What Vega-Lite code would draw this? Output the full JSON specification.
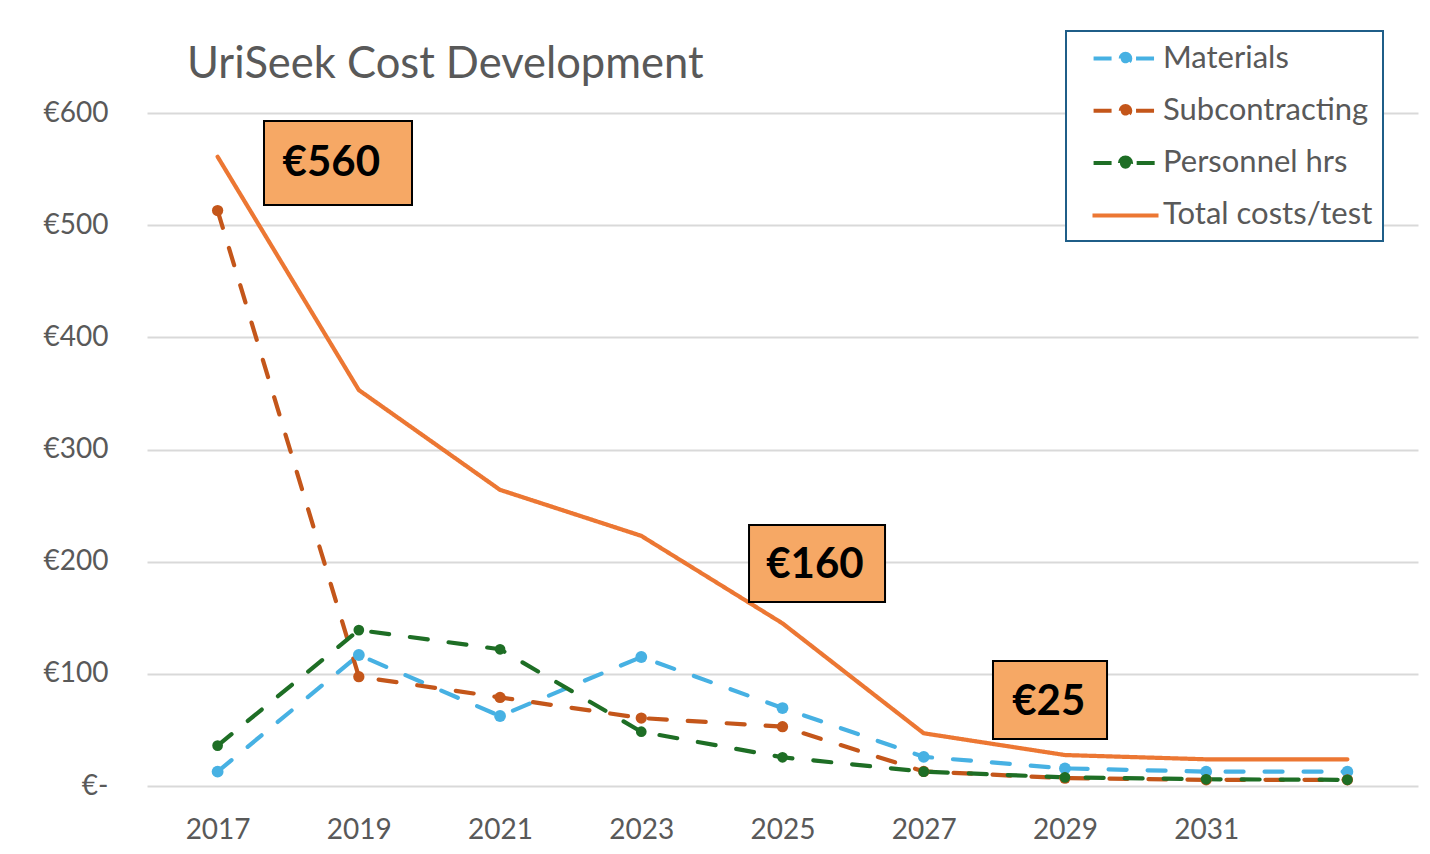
{
  "$schema": "https://vega.github.io/schema/vega-lite/v6.json",
  "autosize": {"type": "none"},
  "padding": {"left": 147, "top": 113, "right": 12, "bottom": 68},
  "width": 1271,
  "height": 673,
  "background": "white",
  "config": {"view": {"stroke": null}, "font": "Lato", "legend": {"strokeWidth": 2}},
  "title": {
    "text": "UriSeek Cost Development",
    "anchor": "start",
    "frame": "group",
    "font": "Lato",
    "fontSize": 43.5,
    "fontWeight": "normal",
    "color": "#595959",
    "dx": 40,
    "dy": 77,
    "offset": 20
  },
  "datasets": {
    "costs": [
      {"year": 2017, "series": "Materials", "value": 12.8},
      {"year": 2019, "series": "Materials", "value": 116.8},
      {"year": 2021, "series": "Materials", "value": 62.4},
      {"year": 2023, "series": "Materials", "value": 115},
      {"year": 2025, "series": "Materials", "value": 69.5},
      {"year": 2027, "series": "Materials", "value": 26},
      {"year": 2029, "series": "Materials", "value": 15.7},
      {"year": 2031, "series": "Materials", "value": 12.8},
      {"year": 2033, "series": "Materials", "value": 12.8},
      {"year": 2017, "series": "Subcontracting", "value": 513},
      {"year": 2019, "series": "Subcontracting", "value": 97.5},
      {"year": 2021, "series": "Subcontracting", "value": 79},
      {"year": 2023, "series": "Subcontracting", "value": 60.6},
      {"year": 2025, "series": "Subcontracting", "value": 52.9},
      {"year": 2027, "series": "Subcontracting", "value": 13},
      {"year": 2029, "series": "Subcontracting", "value": 7},
      {"year": 2031, "series": "Subcontracting", "value": 5.5},
      {"year": 2033, "series": "Subcontracting", "value": 5.5},
      {"year": 2017, "series": "Personnel hrs", "value": 36},
      {"year": 2019, "series": "Personnel hrs", "value": 139},
      {"year": 2021, "series": "Personnel hrs", "value": 121.9},
      {"year": 2023, "series": "Personnel hrs", "value": 48.4},
      {"year": 2025, "series": "Personnel hrs", "value": 25.6},
      {"year": 2027, "series": "Personnel hrs", "value": 12.8},
      {"year": 2029, "series": "Personnel hrs", "value": 7.7},
      {"year": 2031, "series": "Personnel hrs", "value": 6},
      {"year": 2033, "series": "Personnel hrs", "value": 5.5},
      {"year": 2017, "series": "Total costs/test", "value": 561},
      {"year": 2019, "series": "Total costs/test", "value": 353},
      {"year": 2021, "series": "Total costs/test", "value": 264},
      {"year": 2023, "series": "Total costs/test", "value": 223},
      {"year": 2025, "series": "Total costs/test", "value": 145},
      {"year": 2027, "series": "Total costs/test", "value": 47},
      {"year": 2029, "series": "Total costs/test", "value": 27.6},
      {"year": 2031, "series": "Total costs/test", "value": 23.8},
      {"year": 2033, "series": "Total costs/test", "value": 23.8}
    ],
    "notes": [
      {"label": "€560", "x1": 2017.657, "x2": 2019.753, "y1": 592.9, "y2": 518.0, "tx": 2018.61, "ty": 555.4},
      {"label": "€160", "x1": 2024.526, "x2": 2026.452, "y1": 232.7, "y2": 164.0, "tx": 2025.46, "ty": 197.0},
      {"label": "€25", "x1": 2027.981, "x2": 2029.596, "y1": 111.4, "y2": 41.9, "tx": 2028.77, "ty": 74.9}
    ]
  },
  "layer": [
    {
      "data": {"name": "costs"},
      "mark": {"type": "line", "strokeWidth": 4.2, "strokeCap": "round", "strokeJoin": "round"},
      "encoding": {
        "x": {
          "field": "year", "type": "quantitative",
          "scale": {"domain": [2016, 2034], "nice": false, "zero": false},
          "axis": {
            "title": null, "values": [2017, 2019, 2021, 2023, 2025, 2027, 2029, 2031],
            "format": "d", "grid": false, "domain": false, "ticks": false, "tickSize": 0,
            "labelFont": "Lato", "labelFontSize": 28, "labelColor": "#595959", "labelPadding": 30
          }
        },
        "y": {
          "field": "value", "type": "quantitative",
          "scale": {"domain": [0, 600], "nice": false},
          "axis": {
            "title": null, "values": [0, 100, 200, 300, 400, 500, 600],
            "labelExpr": "datum.value == 0 ? '€-' : '€' + datum.value",
            "grid": true, "gridColor": "#D9D9D9", "gridWidth": 2,
            "domain": false, "ticks": false, "tickSize": 0,
            "labelFont": "Lato", "labelFontSize": 28, "labelColor": "#595959", "labelPadding": 39
          }
        },
        "color": {
          "field": "series", "type": "nominal",
          "scale": {
            "domain": ["Materials", "Subcontracting", "Personnel hrs", "Total costs/test"],
            "range": ["#47B1E3", "#C4561A", "#1E6E25", "#EC7733"]
          }
        },
        "strokeDash": {
          "field": "series", "type": "nominal",
          "scale": {
            "domain": ["Materials", "Subcontracting", "Personnel hrs", "Total costs/test"],
            "range": [[18, 21], [18, 21], [18, 21], [1, 0]]
          },
          "legend": null
        }
      }
    },
    {
      "data": {"name": "costs"},
      "transform": [{"filter": "datum.series !== 'Total costs/test'"}],
      "mark": {"type": "point", "filled": true, "opacity": 1},
      "encoding": {
        "x": {"field": "year", "type": "quantitative"},
        "y": {"field": "value", "type": "quantitative"},
        "color": {"field": "series", "type": "nominal"},
        "size": {
          "field": "series", "type": "nominal",
          "scale": {"domain": ["Materials", "Subcontracting", "Personnel hrs"], "range": [140, 115, 185]},
          "legend": null
        }
      }
    },
    {
      "data": {"name": "costs"},
      "mark": {"type": "point", "filled": false, "opacity": 0, "strokeWidth": 4},
      "encoding": {
        "x": {"field": "year", "type": "quantitative"},
        "y": {"field": "value", "type": "quantitative"},
        "color": {
          "field": "series", "type": "nominal",
          "legend": {
            "title": null,
            "orient": "none",
            "legendX": 919,
            "legendY": -82,
            "strokeColor": "#1F5E88",
            "fillColor": "white",
            "padding": 10,
            "labelFont": "Lato",
            "labelFontSize": 31,
            "labelColor": "#595959",
            "labelLimit": 400,
            "symbolSize": 961,
            "symbolStrokeWidth": 4,
            "symbolOpacity": 1,
            "symbolOffset": 32,
            "labelOffset": 20,
            "rowPadding": 19.3
          }
        },
        "shape": {
          "field": "series", "type": "nominal",
          "scale": {
            "domain": ["Materials", "Subcontracting", "Personnel hrs", "Total costs/test"],
            "range": [
              "M-2.06,0H-0.68M0.68,0H2.06M-0.31,0A0.31,0.31 0 1,1 0.31,0A0.31,0.31 0 1,1 -0.31,0Z",
              "M-2.06,0H-0.68M0.68,0H2.06M-0.31,0A0.31,0.31 0 1,1 0.31,0A0.31,0.31 0 1,1 -0.31,0Z",
              "M-2.06,0H-0.72M0.72,0H2.06M-0.36,0A0.36,0.36 0 1,1 0.36,0A0.36,0.36 0 1,1 -0.36,0Z",
              "M-2.13,0H2.13"
            ]
          }
        }
      }
    },
    {
      "data": {"name": "notes"},
      "mark": {"type": "rect", "fill": "#F6A865", "stroke": "black", "strokeWidth": 2},
      "encoding": {
        "x": {"field": "x1", "type": "quantitative"},
        "x2": {"field": "x2"},
        "y": {"field": "y1", "type": "quantitative"},
        "y2": {"field": "y2"}
      }
    },
    {
      "data": {"name": "notes"},
      "mark": {"type": "text", "font": "Lato", "fontSize": 42, "fontWeight": "bold", "color": "black", "align": "center", "baseline": "middle"},
      "encoding": {
        "x": {"field": "tx", "type": "quantitative"},
        "y": {"field": "ty", "type": "quantitative"},
        "text": {"field": "label"}
      }
    }
  ]
}
